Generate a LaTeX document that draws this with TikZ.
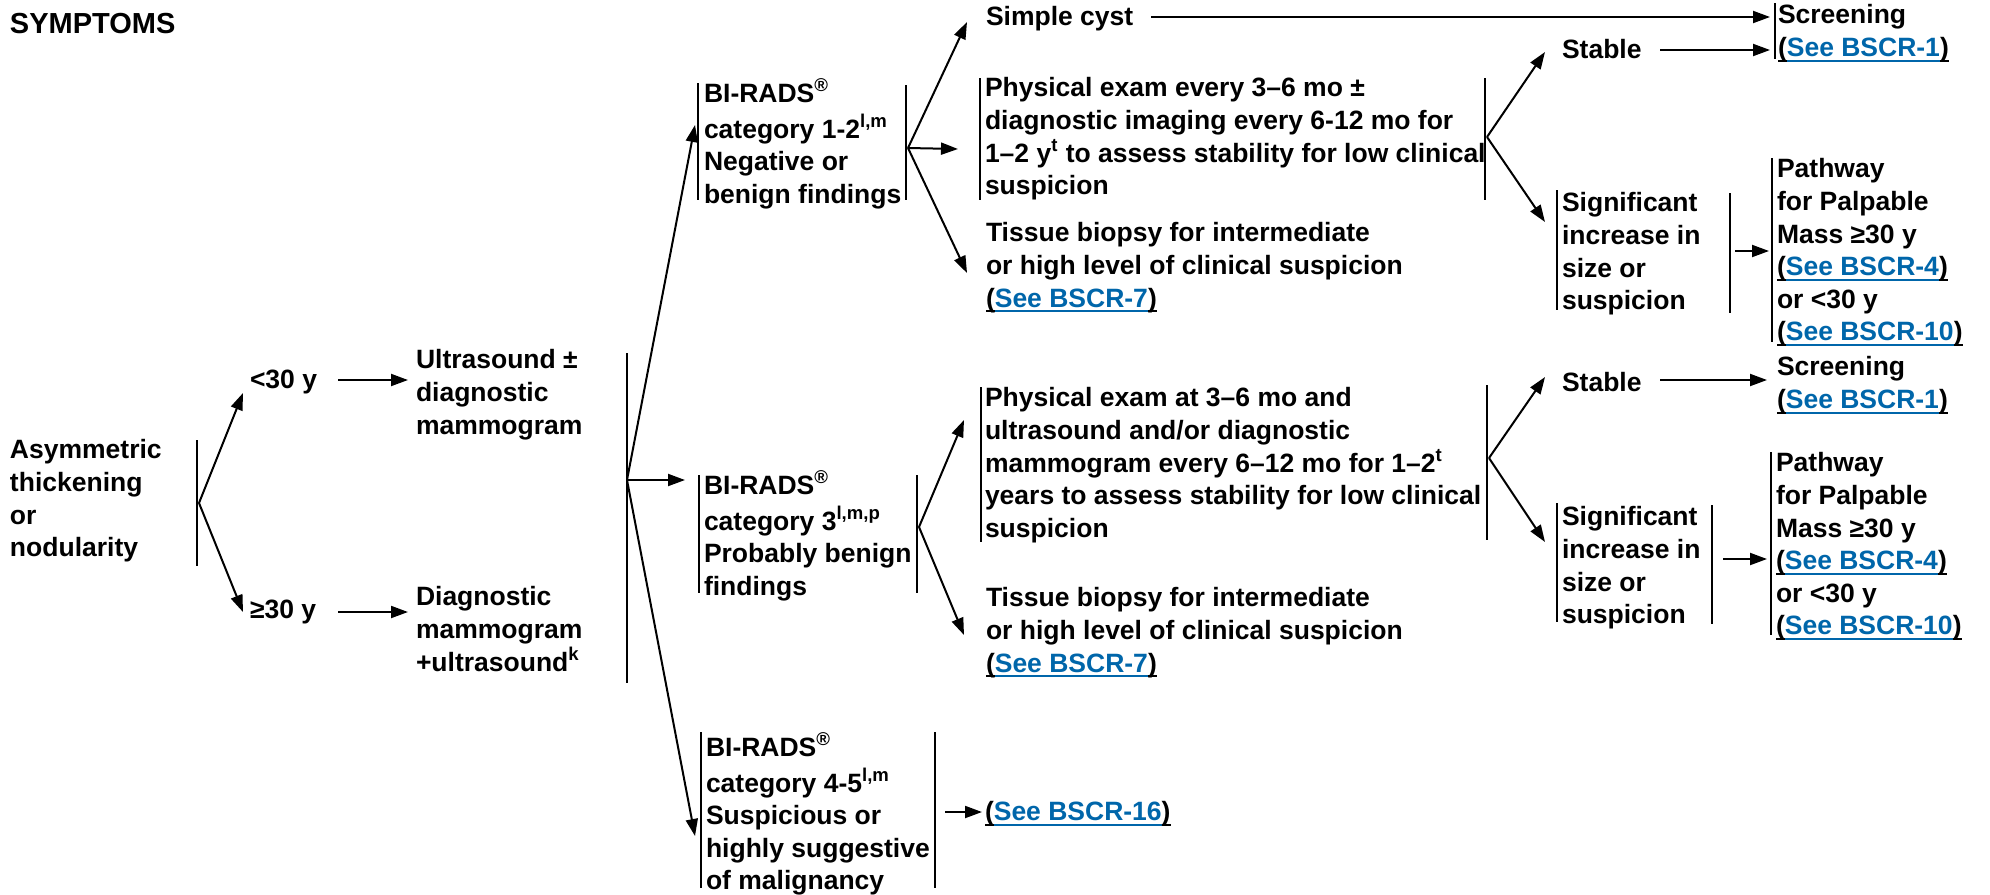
\documentclass[tikz,border=0pt]{standalone}
\usepackage{fontspec}
\setmainfont{Liberation Sans}
\usetikzlibrary{arrows.meta}
\definecolor{lnk}{RGB}{0,102,170}
\newcommand{\myul}[1]{\setbox0\hbox{#1}\rlap{\copy0}\rule[-2.6pt]{\wd0}{0.9pt}}
\newcommand{\lk}[1]{\myul{(}\textcolor{lnk}{\myul{#1}}\myul{)}}
\newcommand{\sps}[1]{\textsuperscript{#1}}
\begin{document}
\begin{tikzpicture}[x=0.5pt,y=-0.5pt,
  txt/.style={inner sep=0pt, outer sep=0pt, anchor=north west, align=left,
    font=\bfseries\fontsize{13.25}{16.3}\selectfont},
  bar/.style={line width=1pt},
  arr/.style={line width=1pt, -{Triangle[length=8.5pt,width=6pt]}}]
\useasboundingbox (0,0) rectangle (1990,894);

% ---- text nodes ----
\node[txt, font=\bfseries\fontsize{14.5}{16.4}\selectfont] (sym) at (10,11) {\strut SYMPTOMS};
\node[txt] (asym) at (10,436) {\strut Asymmetric\\thickening\\or\\nodularity};
\node[txt] (lt30) at (250,366) {\strut <30 y};
\node[txt] (ge30) at (250,596) {\strut ≥30 y};
\node[txt] (us) at (416,346) {\strut Ultrasound ±\\diagnostic\\mammogram};
\node[txt] (dm) at (416,583) {\strut Diagnostic\\mammogram\\+ultrasound\sps{k}};
\node[txt] (br12) at (704,79) {\strut BI-RADS\sps{®}\\category 1-2\sps{l,m}\\Negative or\\benign findings};
\node[txt] (br3) at (704,471) {\strut BI-RADS\sps{®}\\category 3\sps{l,m,p}\\Probably benign\\findings};
\node[txt] (br45) at (706,733) {\strut BI-RADS\sps{®}\\category 4-5\sps{l,m}\\Suspicious or\\highly suggestive\\of malignancy};
\node[txt] (cyst) at (986,3) {\strut Simple cyst};
\node[txt] (pe1) at (985,74) {\strut Physical exam every 3–6 mo ±\\diagnostic imaging every 6-12 mo for\\1–2 y\sps{t} to assess stability for low clinical\\suspicion};
\node[txt] (tb1) at (986,219) {\strut Tissue biopsy for intermediate\\or high level of clinical suspicion\\\lk{See BSCR-7}};
\node[txt] (pe2) at (985,384) {\strut Physical exam at 3–6 mo and\\ultrasound and/or diagnostic\\mammogram every 6–12 mo for 1–2\sps{t}\\years to assess stability for low clinical\\suspicion};
\node[txt] (tb2) at (986,584) {\strut Tissue biopsy for intermediate\\or high level of clinical suspicion\\\lk{See BSCR-7}};
\node[txt] (b16) at (985,798) {\strut\lk{See BSCR-16}};
\node[txt] (st1) at (1562,36) {\strut Stable};
\node[txt] (sc1) at (1778,1) {\strut Screening\\\lk{See BSCR-1}};
\node[txt] (sg1) at (1562,189) {\strut Significant\\increase in\\size or\\suspicion};
\node[txt] (pw1) at (1777,155) {\strut Pathway\\for Palpable\\Mass ≥30 y\\\lk{See BSCR-4}\\or <30 y\\\lk{See BSCR-10}};
\node[txt] (st2) at (1562,369) {\strut Stable};
\node[txt] (sc2) at (1777,353) {\strut Screening\\\lk{See BSCR-1}};
\node[txt] (sg2) at (1562,503) {\strut Significant\\increase in\\size or\\suspicion};
\node[txt] (pw2) at (1776,449) {\strut Pathway\\for Palpable\\Mass ≥30 y\\\lk{See BSCR-4}\\or <30 y\\\lk{See BSCR-10}};

% ---- bars ----
\draw[bar] (197,440) -- (197,566);
\draw[bar] (627,353) -- (627,683);
\draw[bar] (698,83) -- (698,200);
\draw[bar] (906,85) -- (906,200);
\draw[bar] (699,475) -- (699,593);
\draw[bar] (917,475) -- (917,593);
\draw[bar] (701,732) -- (701,888);
\draw[bar] (935,732) -- (935,888);
\draw[bar] (980,78) -- (980,200);
\draw[bar] (1485,78) -- (1485,200);
\draw[bar] (981,387) -- (981,542);
\draw[bar] (1487,385) -- (1487,540);
\draw[bar] (1775,3) -- (1775,59);
\draw[bar] (1557,190) -- (1557,310);
\draw[bar] (1730,193) -- (1730,313);
\draw[bar] (1772,158) -- (1772,342);
\draw[bar] (1557,503) -- (1557,622);
\draw[bar] (1712,505) -- (1712,624);
\draw[bar] (1771,452) -- (1771,635);

% ---- fork points and arrow ends ----
\coordinate (fA) at (199,503);
\coordinate (fU) at (627,480);
\coordinate (f12) at (908,148);
\coordinate (f3) at (919,527);
\coordinate (fP1) at (1487,137);
\coordinate (fP2) at (1489,458);

\draw[arr] (fA) -- (243,393);
\draw[arr] (fA) -- (243,612);
\draw[arr] (338,380) -- (408,380);
\draw[arr] (338,612) -- (408,612);
\draw[arr] (fU) -- (695,125);
\draw[arr] (fU) -- (685,480);
\draw[arr] (fU) -- (695,836);
\draw[arr] (f12) -- (967,22);
\draw[arr] (f12) -- (958,149);
\draw[arr] (f12) -- (967,273);
\draw[arr] (1151,17) -- (1770,17);
\draw[arr] (f3) -- (964,420);
\draw[arr] (f3) -- (964,635);
\draw[arr] (945,812) -- (982,812);
\draw[arr] (fP1) -- (1545,52);
\draw[arr] (fP1) -- (1545,222);
\draw[arr] (1660,50) -- (1770,50);
\draw[arr] (1735,251) -- (1769,251);
\draw[arr] (fP2) -- (1545,377);
\draw[arr] (fP2) -- (1545,542);
\draw[arr] (1660,380) -- (1767,380);
\draw[arr] (1723,559) -- (1767,559);
\end{tikzpicture}
\end{document}
